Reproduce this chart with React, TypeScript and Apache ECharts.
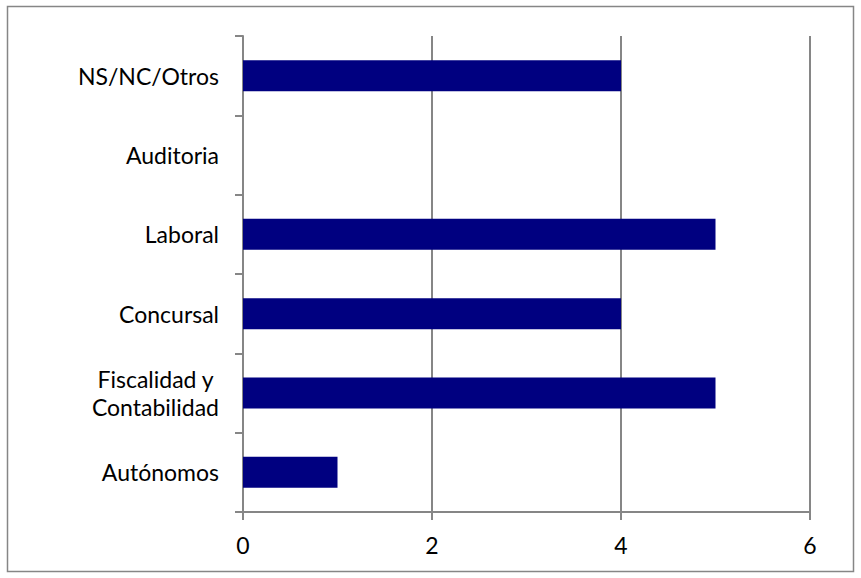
import React, { useEffect, useRef } from "react";
import * as echarts from "echarts";

const categories = ["Autónomos", "Fiscalidad y \nContabilidad", "Concursal", "Laboral", "Auditoria", "NS/NC/Otros"];
const values = [1, 5, 4, 5, 0, 4];
const xTicks = { min: 0, max: 6, interval: 2 };

export default function App() {
  const ref = useRef<HTMLDivElement>(null);
  useEffect(() => {
    if (!ref.current) return;
    const chart = echarts.init(ref.current, null, { renderer: "svg" });
    const gray = "#868686";
    const font = "Lato";
    chart.setOption({
      animation: false,
      backgroundColor: "#ffffff",
      grid: { left: 243, right: 51, top: 36, bottom: 66, containLabel: false },
      graphic: [
        {
          type: "rect",
          shape: { x: 7.5, y: 6.5, width: 846, height: 565 },
          style: { fill: "none", stroke: gray, lineWidth: 1.5 },
          silent: true,
        },
      ],
      xAxis: {
        type: "value",
        min: xTicks.min,
        max: xTicks.max,
        interval: xTicks.interval,
        axisLine: { show: true, lineStyle: { color: gray, width: 2 } },
        axisTick: { show: true, length: 8, lineStyle: { color: gray, width: 2 } },
        splitLine: { show: true, lineStyle: { color: gray, width: 2 } },
        axisLabel: { color: "#000", fontFamily: font, fontSize: 23, margin: 21 },
      },
      yAxis: {
        type: "category",
        data: categories,
        axisLine: { show: true, onZero: false, lineStyle: { color: gray, width: 2 } },
        axisTick: { show: true, length: 8, lineStyle: { color: gray, width: 2 } },
        axisLabel: { color: "#000", fontFamily: font, fontSize: 23, margin: 24, lineHeight: 28 },
      },
      series: [
        {
          type: "bar",
          data: values,
          barWidth: 31,
          itemStyle: { color: "#000080" },
        },
      ],
    });
    return () => chart.dispose();
  }, []);
  return (
    <div
      ref={ref}
      style={{ position: "absolute", left: 0, top: 0, width: 861, height: 578 }}
    />
  );
}
